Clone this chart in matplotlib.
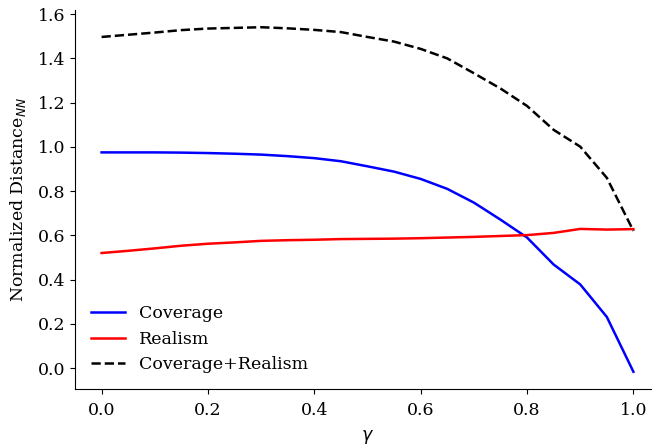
import numpy as np
import matplotlib
matplotlib.use("Agg")
import matplotlib.pyplot as plt

plt.rcParams['font.family'] = 'DejaVu Serif'
plt.rcParams['font.size'] = 12.5

gamma = [0.0, 0.05, 0.1, 0.15, 0.2, 0.25, 0.3, 0.35, 0.4, 0.45, 0.5,
         0.55, 0.6, 0.65, 0.7, 0.75, 0.8, 0.85, 0.9, 0.95, 1.0]
coverage = [0.975, 0.975, 0.975, 0.974, 0.972, 0.969, 0.965, 0.958, 0.949, 0.935, 0.912,
            0.888, 0.855, 0.810, 0.748, 0.671, 0.590, 0.468, 0.378, 0.231, -0.017]
realism = [0.520, 0.530, 0.541, 0.553, 0.562, 0.568, 0.575, 0.578, 0.580, 0.583, 0.584,
           0.585, 0.587, 0.590, 0.593, 0.597, 0.601, 0.611, 0.629, 0.626, 0.628]
combined = [1.497, 1.507, 1.517, 1.528, 1.535, 1.538, 1.541, 1.536, 1.529, 1.519, 1.497,
            1.476, 1.443, 1.400, 1.333, 1.264, 1.185, 1.077, 1.001, 0.860, 0.620]

fig = plt.figure(figsize=(6.52, 4.45), dpi=100)
ax = fig.add_axes([75 / 652, 56 / 445, 585 / 652, 379 / 445])

ax.plot(gamma, coverage, color='blue', lw=1.8, label='Coverage')
ax.plot(gamma, realism, color='red', lw=1.8, label='Realism')
ax.plot(gamma, combined, color='black', lw=1.8, ls='--', label='Coverage+Realism')

ax.set_xlabel(r'$\gamma$', labelpad=6)
ax.set_ylabel(r'Normalized Distance$_{NN}$', labelpad=7)
ax.tick_params(axis='x', pad=6)
ax.spines['top'].set_visible(False)
ax.spines['right'].set_visible(False)
ax.legend(loc='lower left', frameon=False)

fig.savefig('out.png', dpi=100)
